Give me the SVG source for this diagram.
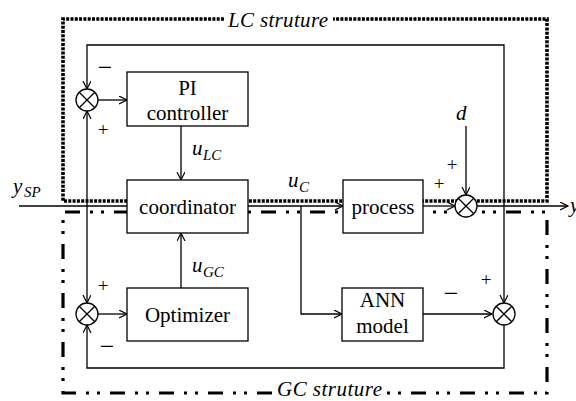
<svg xmlns="http://www.w3.org/2000/svg" width="576" height="401" viewBox="0 0 576 401">
<style>
.box{fill:#fff;stroke:#000;stroke-width:1.3}
.ln{fill:none;stroke:#000;stroke-width:1.3}
.lc{fill:none;stroke:#000;stroke-width:3.6;stroke-dasharray:3 1.3}
.gc{fill:none;stroke:#000;stroke-width:3.2;stroke-dasharray:15 10 3 8 3 10}
.sum{fill:#fff;stroke:#000;stroke-width:1.3}
text{font-family:'Liberation Serif','Times New Roman',serif;fill:#000}
.t{font-size:21px;text-anchor:middle}
.it{font-style:italic;font-size:21px}
.sb{font-style:italic;font-size:15px}
.sg{font-size:19px;text-anchor:middle}
.mn{font-size:26px;text-anchor:middle}
</style>
<defs>
<marker id="ar" markerUnits="userSpaceOnUse" markerWidth="10" markerHeight="10" refX="8" refY="4" orient="auto">
<path d="M0,0 L8,4 L0,8" fill="none" stroke="#000" stroke-width="1.2"/>
</marker>
</defs>
<g id="lc-structure">
<path class="lc" d="M224,19 H63 V201 H547 V19 H333"/>
<text class="it" x="228" y="27" textLength="100">LC struture</text>
</g>
<g id="gc-structure">
<path class="gc" d="M272,393 H63 V212 H547 V393 H386"/>
<text class="it" x="277" y="396" font-size="19" textLength="105">GC struture</text>
</g>
<g id="connectors">
<path class="ln" d="M19,206 H127"/>
<path class="ln" d="M87,206 V111" marker-end="url(#ar)"/>
<path class="ln" d="M87,206 V303" marker-end="url(#ar)"/>
<path class="ln" d="M504,206 V45 H87 V89" marker-end="url(#ar)"/>
<path class="ln" d="M504,206 V303" marker-end="url(#ar)"/>
<path class="ln" d="M504,325 V368 H87 V325" marker-end="url(#ar)"/>
<path class="ln" d="M98,100 H127" marker-end="url(#ar)"/>
<path class="ln" d="M98,314 H127" marker-end="url(#ar)"/>
<path class="ln" d="M181,126 V180" marker-end="url(#ar)"/>
<path class="ln" d="M181,288 V233" marker-end="url(#ar)"/>
<path class="ln" d="M248,206 H343" marker-end="url(#ar)"/>
<path class="ln" d="M301,206 V314 H342" marker-end="url(#ar)"/>
<path class="ln" d="M423,206 H455" marker-end="url(#ar)"/>
<path class="ln" d="M477,206 H568" marker-end="url(#ar)"/>
<path class="ln" d="M466,126 V195" marker-end="url(#ar)"/>
<path class="ln" d="M423,314 H492" marker-end="url(#ar)"/>
</g>
<g id="pi-controller">
<rect class="box" x="127" y="72" width="121" height="54"/>
<text class="t" x="187.5" y="95">PI</text>
<text class="t" x="187.5" y="120">controller</text>
</g>
<g id="coordinator">
<rect class="box" x="127" y="180" width="121" height="53"/>
<text class="t" x="187.5" y="214">coordinator</text>
</g>
<g id="optimizer">
<rect class="box" x="127" y="288" width="121" height="53"/>
<text class="t" x="187.5" y="322">Optimizer</text>
</g>
<g id="process">
<rect class="box" x="343" y="180" width="80" height="53"/>
<text class="t" x="383" y="214">process</text>
</g>
<g id="ann-model">
<rect class="box" x="342" y="288" width="81" height="53"/>
<text class="t" x="382.5" y="307">ANN</text>
<text class="t" x="382.5" y="333">model</text>
</g>
<g id="sum-lc">
<circle class="sum" cx="87" cy="100" r="11"/>
<path class="ln" d="M79.2,92.2 L94.8,107.8 M94.8,92.2 L79.2,107.8"/>
</g>
<g id="sum-gc">
<circle class="sum" cx="87" cy="314" r="11"/>
<path class="ln" d="M79.2,306.2 L94.8,321.8 M94.8,306.2 L79.2,321.8"/>
</g>
<g id="sum-d">
<circle class="sum" cx="466" cy="206" r="11"/>
<path class="ln" d="M458.2,198.2 L473.8,213.8 M473.8,198.2 L458.2,213.8"/>
</g>
<g id="sum-ann">
<circle class="sum" cx="504" cy="314" r="11"/>
<path class="ln" d="M496.2,306.2 L511.8,321.8 M511.8,306.2 L496.2,321.8"/>
</g>
<g id="labels">
<text class="it" x="13" y="193">y</text><text class="sb" x="24" y="197">SP</text>
<text class="it" x="192" y="155">u</text><text class="sb" x="203" y="160">LC</text>
<text class="it" x="192" y="272">u</text><text class="sb" x="203" y="277">GC</text>
<text class="it" x="288" y="187">u</text><text class="sb" x="299" y="192">C</text>
<text class="it" x="456" y="120">d</text>
<text class="it" x="570" y="212">y</text>
<text class="mn" x="105" y="76">−</text>
<text class="sg" x="103" y="136">+</text>
<text class="sg" x="103" y="292">+</text>
<text class="mn" x="107" y="355">−</text>
<text class="sg" x="452" y="171">+</text>
<text class="sg" x="439" y="190">+</text>
<text class="mn" x="451" y="302">−</text>
<text class="sg" x="486" y="286">+</text>
</g>
</svg>
